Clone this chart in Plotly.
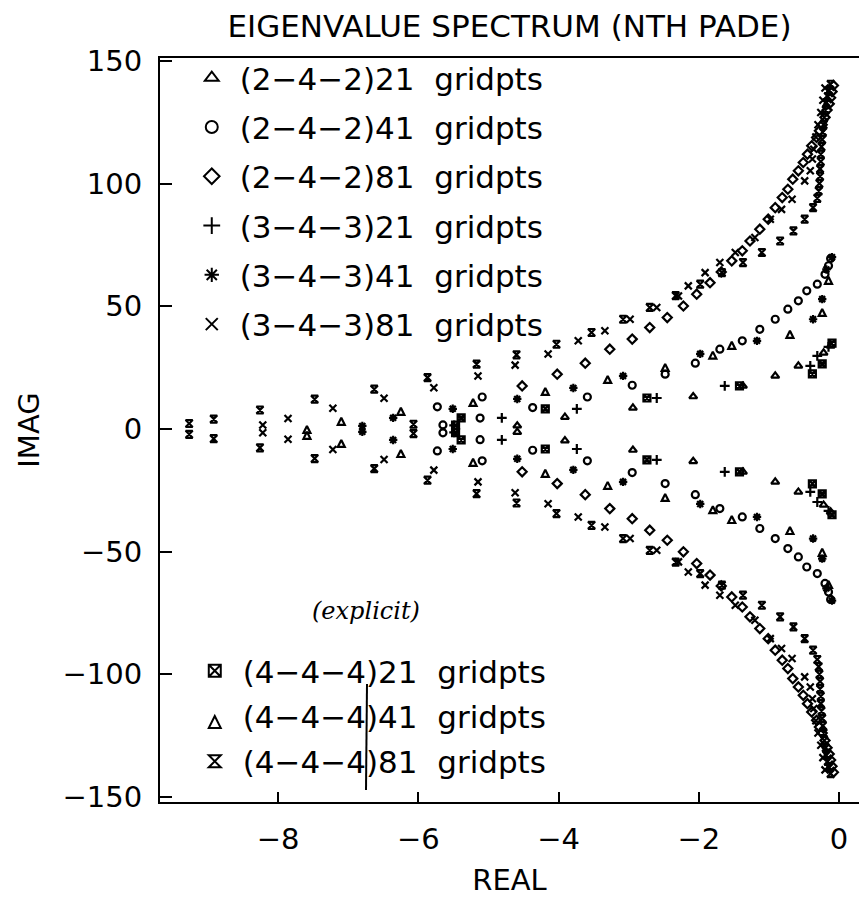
import plotly.graph_objects as go

# ---------------- data (real part, imaginary part: upper / lower halves) ----------------
# (2-4-2) 21 gridpts
tri_re = [-0.12, -0.22, -0.58, -0.91, -1.37, -2.08, -2.94, -3.91, -4.59]
tri_im_up = [33.8, 31.0, 25.7, 21.6, 17.5, 13.2, 8.6, 4.8, 1.3]
tri_im_dn = [-33.8, -31.0, -25.7, -21.6, -17.5, -13.2, -8.6, -4.8, -1.3]

# (2-4-2) 41 gridpts
cir_re = [-0.12, -0.15, -0.20, -0.31, -0.46, -0.58, -0.73, -0.91, -1.13, -1.38,
          -1.70, -2.05, -2.48, -2.95, -3.59, -4.37, -5.09, -5.12, -5.73, -5.65]
cir_im_up = [69.5, 66.5, 63.0, 59.0, 56.3, 52.2, 48.8, 44.7, 40.6, 35.9,
             32.5, 26.8, 22.3, 17.8, 13.0, 8.7, 13.0, 4.4, 9.0, 1.6]
cir_im_dn = [-69.5, -66.5, -63.0, -59.0, -56.3, -52.2, -48.8, -44.7, -40.6, -35.9,
             -32.5, -26.8, -22.3, -17.8, -13.0, -8.7, -13.0, -4.4, -9.0, -1.6]

# (2-4-2) 81 gridpts
dia_re = [-0.08, -0.10, -0.12, -0.14, -0.17, -0.20, -0.24, -0.28, -0.32, -0.39,
          -0.45, -0.51, -0.58, -0.66, -0.73, -0.81, -0.91, -1.01, -1.13, -1.27,
          -1.38, -1.53, -1.68, -1.84, -2.03, -2.22, -2.45, -2.70, -2.95, -3.27,
          -3.62, -4.02, -4.52]
dia_im_up = [140.0, 137.5, 135.0, 132.5, 130.0, 127.0, 124.0, 121.5, 118.8, 115.4,
             112.0, 108.6, 105.2, 101.8, 97.7, 94.3, 90.2, 85.5, 81.4, 76.6,
             72.6, 68.5, 64.0, 59.6, 54.9, 50.1, 45.4, 41.3, 36.6, 32.5,
             26.8, 22.3, 17.5]
dia_im_dn = [-140.0, -137.5, -135.0, -132.5, -130.0, -127.0, -124.0, -121.5, -118.8, -115.4,
             -112.0, -108.6, -105.2, -101.8, -97.7, -94.3, -90.2, -85.5, -81.4, -76.6,
             -72.6, -68.5, -64.0, -59.6, -54.9, -50.1, -45.4, -41.3, -36.6, -32.5,
             -26.8, -22.3, -17.5]

# (3-4-3) 21 gridpts
pls_re = [-0.15, -0.31, -0.41, -1.63, -2.60, -3.74, -4.81, -5.49]
pls_im_up = [33.4, 29.8, 25.7, 17.5, 12.6, 8.2, 4.5, 1.4]
pls_im_dn = [-33.4, -29.8, -25.7, -17.5, -12.6, -8.2, -4.5, -1.4]

# (3-4-3) 41 gridpts
ast_re = [-0.10, -0.18, -0.24, -0.37, -1.17, -1.98, -3.08, -3.79, -4.59, -5.51, -6.36, -6.80]
ast_im_up = [70.0, 65.0, 52.9, 44.7, 35.9, 30.6, 21.6, 16.7, 12.2, 8.2, 4.5, 1.2]
ast_im_dn = [-70.0, -65.0, -52.9, -44.7, -35.9, -30.6, -21.6, -16.7, -12.2, -8.2, -4.5, -1.2]

# (3-4-3) 81 gridpts
xx_re = [-0.20, -0.23, -0.26, -0.30, -0.33, -0.36, -0.38, -0.41, -0.49, -0.67,
         -0.82, -0.98, -1.20, -1.48, -1.70, -1.91, -2.15, -2.29, -2.60, -2.98,
         -3.34, -3.72, -4.15, -4.62, -5.15, -5.78, -6.49, -7.22, -7.86, -8.22]
xx_im_up = [139.0, 134.0, 129.0, 124.0, 119.0, 114.0, 110.0, 105.2, 101.1, 93.6,
            89.5, 85.5, 78.0, 71.9, 67.8, 63.7, 58.3, 54.2, 49.5, 44.7,
            40.0, 35.9, 30.5, 26.0, 21.6, 16.8, 12.5, 8.4, 4.2, 1.6]
xx_im_dn = [-139.0, -134.0, -129.0, -124.0, -119.0, -114.0, -110.0, -105.2, -101.1, -93.6,
            -89.5, -85.5, -78.0, -71.9, -67.8, -63.7, -58.3, -54.2, -49.5, -44.7,
            -40.0, -35.9, -30.5, -26.0, -21.6, -16.8, -12.5, -8.4, -4.2, -1.6]

# (4-4-4) 21 gridpts (explicit)
sqx_re = [-0.10, -0.24, -0.38, -1.42, -2.74, -4.19, -5.39, -5.47]
sqx_im_up = [35.0, 26.5, 22.4, 17.5, 12.6, 8.2, 4.5, 1.5]
sqx_im_dn = [-35.0, -26.5, -22.4, -17.5, -12.6, -8.2, -4.5, -1.5]

# (4-4-4) 41 gridpts (explicit)
arr_re = [-0.15, -0.24, -0.70, -1.53, -1.80, -2.48, -3.30, -4.19, -5.22, -6.25, -7.10, -7.59]
arr_im_up = [62.0, 48.9, 40.0, 35.5, 31.5, 26.5, 21.6, 16.7, 12.2, 8.6, 4.5, 1.2]
arr_im_dn = [-62.0, -48.9, -40.0, -35.5, -31.5, -26.5, -21.6, -16.7, -12.2, -8.6, -4.5, -1.2]

# (4-4-4) 81 gridpts (explicit)
hg_re = [-0.12, -0.14, -0.16, -0.18, -0.19, -0.21, -0.22, -0.23, -0.24, -0.25,
         -0.26, -0.26, -0.27, -0.27, -0.28, -0.29, -0.31, -0.37, -0.49, -0.65,
         -0.84, -1.10, -1.37, -1.67, -1.98, -2.33, -2.70, -3.08, -3.53, -4.03,
         -4.60, -5.17, -5.87, -6.63, -7.48, -8.26, -8.92, -9.27, -6.07]
hg_im_up = [140.5, 138.0, 135.5, 133.0, 130.0, 127.0, 124.0, 121.0, 118.0, 115.0,
            112.0, 109.0, 106.0, 103.0, 100.0, 97.0, 94.0, 90.2, 85.5, 80.7,
            76.6, 71.9, 67.8, 63.7, 59.0, 54.3, 49.5, 44.7, 39.3, 34.5,
            30.2, 26.4, 20.9, 16.2, 12.1, 7.7, 4.0, 2.2, 1.9]
hg_im_dn = [-140.5, -138.0, -135.5, -133.0, -130.0, -127.0, -124.0, -121.0, -118.0, -115.0,
            -112.0, -109.0, -106.0, -103.0, -100.0, -97.0, -94.0, -90.2, -85.5, -80.7,
            -76.6, -71.9, -67.8, -63.7, -59.0, -54.3, -49.5, -44.7, -39.3, -34.5,
            -30.2, -26.4, -20.9, -16.2, -12.1, -7.7, -4.0, -2.2, -1.9]

x_ticks = [-8, -6, -4, -2, 0]
y_ticks = [-150, -100, -50, 0, 50, 100, 150]

SP = "\u00a0\u00a0"
series = [
    ("(2\u22124\u22122)21" + SP + "gridpts", tri_re, tri_im_up, tri_im_dn, "triangle-up-open", "legend"),
    ("(2\u22124\u22122)41" + SP + "gridpts", cir_re, cir_im_up, cir_im_dn, "circle-open", "legend"),
    ("(2\u22124\u22122)81" + SP + "gridpts", dia_re, dia_im_up, dia_im_dn, "diamond-open", "legend"),
    ("(3\u22124\u22123)21" + SP + "gridpts", pls_re, pls_im_up, pls_im_dn, "cross-thin-open", "legend"),
    ("(3\u22124\u22123)41" + SP + "gridpts", ast_re, ast_im_up, ast_im_dn, "asterisk-open", "legend"),
    ("(3\u22124\u22123)81" + SP + "gridpts", xx_re, xx_im_up, xx_im_dn, "x-thin-open", "legend"),
    ("(4\u22124\u22124)21" + SP + "gridpts", sqx_re, sqx_im_up, sqx_im_dn, "square-x-open", "legend2"),
    ("(4\u22124\u22124)41" + SP + "gridpts", arr_re, arr_im_up, arr_im_dn, "arrow-up-open", "legend2"),
    ("(4\u22124\u22124)81" + SP + "gridpts", hg_re, hg_im_up, hg_im_dn, "hourglass-open", "legend2"),
]

fig = go.Figure()
for i, (name, re, up, dn, sym, leg) in enumerate(series):
    fig.add_trace(go.Scatter(
        x=re + re, y=up + dn, mode="markers", name=name,
        legend=leg, legendgroup="g%d" % i,
        marker=dict(symbol=sym, size=7, color="black", line=dict(color="black", width=2.2)),
    ))

FONT = "DejaVu Sans"
fig.update_layout(
    width=859, height=897,
    margin=dict(l=160, r=0, t=58, b=95, pad=0),
    paper_bgcolor="white", plot_bgcolor="white",
    font=dict(family=FONT, size=29, color="black"),
    title=dict(text="EIGENVALUE SPECTRUM (NTH PADE)", x=0.5, xref="paper", xanchor="center",
               y=1 - 26 / 897, yanchor="middle", font=dict(family=FONT, size=31, color="black")),
    xaxis=dict(range=[-9.686, 0.285], tickmode="array", tickvals=x_ticks,
               ticks="inside", ticklen=10, tickwidth=2, tickcolor="black",
               showline=True, linewidth=2, linecolor="black", mirror=True,
               showgrid=False, zeroline=False, ticklabelstandoff=10,
               tickfont=dict(family=FONT, size=29, color="black"),
               title=dict(text="REAL", font=dict(family=FONT, size=29, color="black"), standoff=20)),
    yaxis=dict(range=[-152.1, 151.2], tickmode="array", tickvals=y_ticks,
               ticks="inside", ticklen=12, tickwidth=2, tickcolor="black",
               showline=True, linewidth=2, linecolor="black", mirror=False,
               showgrid=False, zeroline=False, ticklabelstandoff=10,
               tickfont=dict(family=FONT, size=29, color="black"),
               title=dict(text="IMAG", font=dict(family=FONT, size=29, color="black"), standoff=14)),
    legend=dict(x=0.034, y=1.0094, xanchor="left", yanchor="top", bgcolor="rgba(0,0,0,0)",
                borderwidth=0, itemsizing="constant", itemwidth=46, tracegroupgap=6,
                font=dict(family=FONT, size=31, color="black")),
    legend2=dict(x=0.0383, y=0.2123, xanchor="left", yanchor="top", bgcolor="rgba(0,0,0,0)",
                 borderwidth=0, itemsizing="constant", itemwidth=46, tracegroupgap=2,
                 font=dict(family=FONT, size=31, color="black")),
    showlegend=True,
)

fig.add_annotation(text="<i>(explicit)</i>", xref="paper", yref="paper",
                   x=(310 - 160) / 699, y=(802 - 627) / 744, showarrow=False,
                   font=dict(family="DejaVu Serif", size=24, color="black"))
fig.add_shape(type="line", xref="paper", yref="paper",
              x0=(367 - 160) / 699, x1=(366 - 160) / 699,
              y0=(802 - 684) / 744, y1=(802 - 790) / 744,
              line=dict(color="black", width=2))

fig.write_html("out.html")
